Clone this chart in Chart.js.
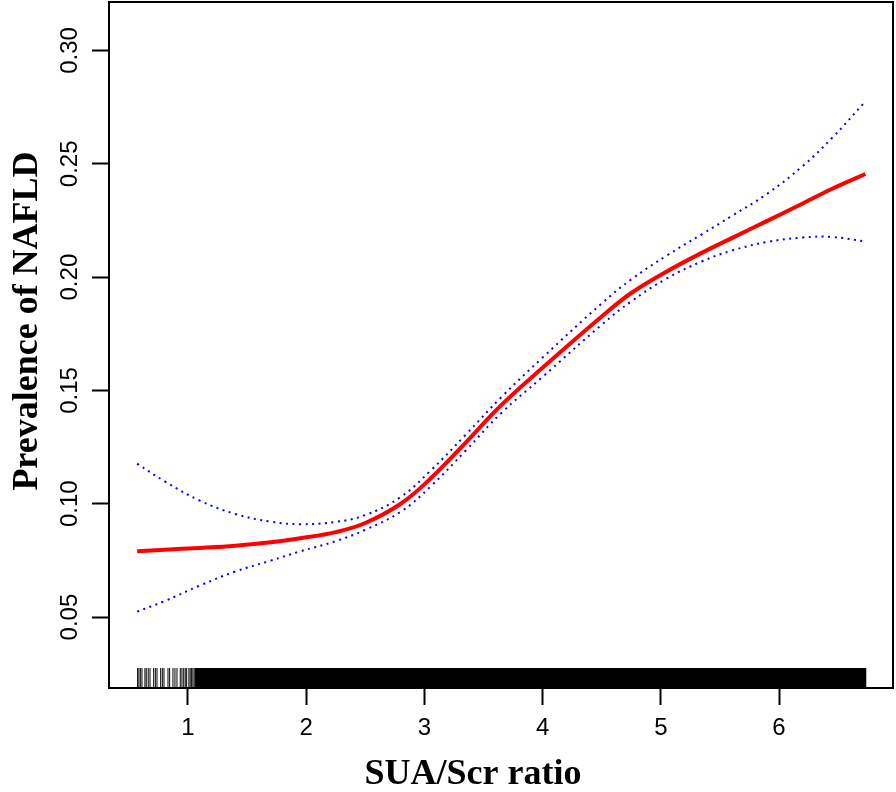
<!DOCTYPE html>
<html>
<head>
<meta charset="utf-8">
<script src="https://cdn.jsdelivr.net/npm/chart.js@4/dist/chart.umd.min.js"></script>
<style>
  body { margin: 0; background: #fff; }
  #wrap { width: 896px; height: 792px; }
</style>
</head>
<body>
<div id="wrap"><canvas id="myChart"></canvas></div>
<script>
// SUA/Scr ratio grid the curves were read at
var xValues = [0.57, 0.8, 1.1, 1.4, 1.7, 1.95, 2.25, 2.5, 2.8, 3.05, 3.35, 3.65, 4.0, 4.5, 4.75, 5.05, 5.35, 5.6, 5.9, 6.2, 6.45, 6.73];
// fitted prevalence and 95% CI
var fitted = [0.0790, 0.0797, 0.0805, 0.0815, 0.0830, 0.0848, 0.0875, 0.0915, 0.1000, 0.1110, 0.1270, 0.1435, 0.1600, 0.1826, 0.1930, 0.2025, 0.2108, 0.2172, 0.2248, 0.2325, 0.2390, 0.2455];
var upperCI = [0.1177, 0.1100, 0.1014, 0.0955, 0.0921, 0.0910, 0.0920, 0.0950, 0.1030, 0.1145, 0.1305, 0.1470, 0.1645, 0.1884, 0.1990, 0.2095, 0.2190, 0.2270, 0.2368, 0.2490, 0.2615, 0.2775];
var lowerCI = [0.0524, 0.0570, 0.0639, 0.0701, 0.0749, 0.0790, 0.0835, 0.0885, 0.0965, 0.1075, 0.1235, 0.1400, 0.1560, 0.1790, 0.1893, 0.1994, 0.2070, 0.2117, 0.2155, 0.2175, 0.2177, 0.2157];

// rug: single observations at the low end, then a solid band
var rugSparse = [0.574, 0.585, 0.597, 0.611, 0.636, 0.647, 0.664, 0.679, 0.710, 0.724, 0.738, 0.769, 0.783, 0.797, 0.831, 0.845, 0.873, 0.890, 0.907, 0.935, 0.949, 0.964, 0.977, 0.989, 1.008, 1.019, 1.031, 1.042, 1.053, 1.065];
var rugBand = [1.06, 6.74];

var xTicks = [1, 2, 3, 4, 5, 6];
var yTicks = [0.05, 0.10, 0.15, 0.20, 0.25, 0.30];
var xTitle = 'SUA/Scr ratio';
var yTitle = 'Prevalence of NAFLD';

var xMin = 0.332, xMax = 6.964;
var yMin = 0.0187, yMax = 0.3214;
var rugTop = 0.0275, rugMid = 0.0231;

function pts(xs, ys) {
    return xs.map(function (x, i) { return { x: x, y: ys[i] }; });
}

function noPad(s) {
    s.paddingTop = 0;
    s.paddingBottom = 0;
    s.paddingLeft = 0;
    s.paddingRight = 0;
}

// black frame around the plot region + the two axis titles
var boxPlugin = {
    id: 'box',
    afterDraw: function (chart) {
        var a = chart.chartArea, c = chart.ctx;
        c.save();
        c.strokeStyle = '#000';
        c.lineWidth = 2;
        c.strokeRect(a.left, a.top, a.right - a.left, a.bottom - a.top);

        c.fillStyle = '#000';
        c.font = 'bold 36px "Liberation Serif"';
        c.textAlign = 'center';
        c.textBaseline = 'middle';
        c.fillText(xTitle, 473, 775);
        c.translate(28, 321);
        c.rotate(-Math.PI / 2);
        c.fillText(yTitle, 0, 0);
        c.restore();
    }
};

var ctx = document.getElementById('myChart').getContext('2d');
var chart = new Chart(ctx, {
    type: 'scatter',
    data: {
        datasets: [{
            type: 'line',
            data: pts(xValues, fitted),
            borderColor: '#ff0000',
            borderWidth: 4,
            pointRadius: 0,
            tension: 0.4
        }, {
            type: 'line',
            data: pts(xValues, upperCI),
            borderColor: '#0000ff',
            borderWidth: 2,
            borderDash: [2, 4.5],
            pointRadius: 0,
            tension: 0.4
        }, {
            type: 'line',
            data: pts(xValues, lowerCI),
            borderColor: '#0000ff',
            borderWidth: 2,
            borderDash: [2, 4.5],
            pointRadius: 0,
            tension: 0.4
        }, {
            data: rugSparse.map(function (x) { return { x: x, y: rugMid }; }),
            pointStyle: 'line',
            rotation: 90,
            radius: 10,
            borderColor: '#000',
            borderWidth: 1
        }, {
            type: 'line',
            data: rugBand.map(function (x) { return { x: x, y: rugTop }; }),
            borderWidth: 0,
            pointRadius: 0,
            backgroundColor: '#000',
            fill: 'start'
        }]
    },
    options: {
        responsive: true,
        maintainAspectRatio: false,
        animation: false,
        layout: { autoPadding: false, padding: { top: 2, right: 3, left: 0, bottom: 0 } },
        plugins: {
            legend: { display: false },
            tooltip: { enabled: false }
        },
        scales: {
            x: {
                type: 'linear',
                min: xMin,
                max: xMax,
                afterBuildTicks: function (s) { s.ticks = xTicks.map(function (v) { return { value: v }; }); },
                afterFit: function (s) { s.height = 104; noPad(s); },
                grid: { drawOnChartArea: false, tickLength: 17, tickWidth: 2, tickColor: '#000' },
                border: { display: false },
                ticks: {
                    color: '#000',
                    padding: 9,
                    font: { family: 'Liberation Sans', size: 24 },
                    maxRotation: 0
                }
            },
            y: {
                type: 'linear',
                min: yMin,
                max: yMax,
                afterBuildTicks: function (s) { s.ticks = yTicks.map(function (v) { return { value: v }; }); },
                afterFit: function (s) { s.width = 109; noPad(s); },
                grid: { drawOnChartArea: false, tickLength: 17, tickWidth: 2, tickColor: '#000' },
                border: { display: false },
                ticks: {
                    color: '#000',
                    padding: -2,
                    minRotation: 90,
                    maxRotation: 90,
                    crossAlign: 'center',
                    font: { family: 'Liberation Sans', size: 24 },
                    callback: function (v) { return v.toFixed(2); }
                }
            }
        }
    },
    plugins: [boxPlugin]
});
</script>
</body>
</html>
